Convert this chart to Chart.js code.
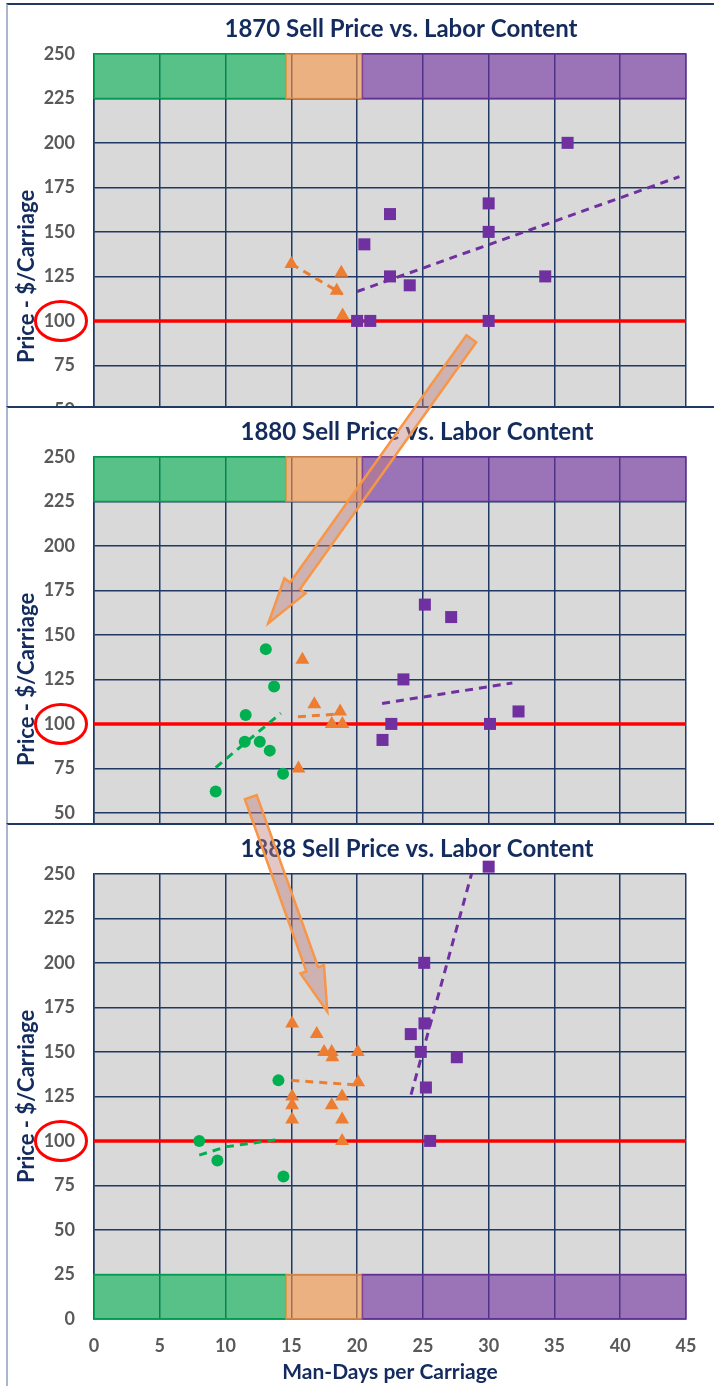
<!DOCTYPE html>
<html>
<head>
<meta charset="utf-8">
<script src="https://cdn.jsdelivr.net/npm/chart.js@4.4.1/dist/chart.umd.min.js"></script>
<style>
	html, body { margin: 0; padding: 0; background: #fff; }
	body { width: 714px; height: 1386px; overflow: hidden; position: relative; }
	.panel { position: absolute; left: 6px; background: #fff; border-top: 2px solid #1F3864; border-left: 2px solid #A9B6CF; }
	.panel canvas { display: block; }
	#p1870 { top: 3px; }
	#p1880 { top: 406px; }
	#p1888 { top: 823px; }
	#arrows { position: absolute; left: 0; top: 0; pointer-events: none; }
</style>
</head>
<body>
<div class="panel" id="p1870"><canvas id="chart-1870" width="786" height="561"></canvas></div>
<div class="panel" id="p1880"><canvas id="chart-1880" width="818" height="561"></canvas></div>
<div class="panel" id="p1888"><canvas id="chart-1888" width="818" height="561"></canvas></div>
<svg id="arrows" width="714" height="1386"></svg>

<script>
//------------------------------------------------------------
// Data
//------------------------------------------------------------
const X_MIN = 0, X_MAX = 45, X_STEP = 5;
const Y_MIN = 0, Y_MAX = 250, Y_STEP = 25;
const PARITY_PRICE = 100;
const BAND_EDGES = [0, 14.6, 20.4, 45];

// 1870
const orange1870X = [15.0, 18.8, 18.45, 18.9];
const orange1870Y = [132, 127, 117, 103];
const purple1870X = [36.0, 30.0, 30.0, 22.5, 20.55, 22.5, 24.0, 34.3, 20.0, 21.0, 30.0];
const purple1870Y = [200, 166, 150, 160, 143, 125, 120, 125, 100, 100, 100];
const orangeTrend1870X = [15.0, 18.9];
const orangeTrend1870Y = [132, 115];
const purpleTrend1870X = [20.0, 44.5];
const purpleTrend1870Y = [116.5, 181];

// 1880
const green1880X = [13.06, 13.69, 11.53, 11.46, 12.6, 13.36, 14.37, 9.25];
const green1880Y = [142, 121, 105, 90, 90, 85, 72, 62];
const orange1880X = [15.84, 16.75, 18.71, 18.07, 18.88, 15.54];
const orange1880Y = [136, 111, 107, 100, 100, 75];
const purple1880X = [25.15, 27.15, 23.52, 22.6, 30.1, 32.27, 21.93];
const purple1880Y = [167, 160, 125, 100, 100, 107, 91];
const greenTrend1880X = [9.25, 14.2];
const greenTrend1880Y = [75.5, 106];
const orangeTrend1880X = [15.5, 18.5];
const orangeTrend1880Y = [104, 105.5];
const purpleTrend1880X = [21.9, 31.8];
const purpleTrend1880Y = [111.5, 123];

// 1888
const green1888X = [14.02, 8.0, 9.38, 14.4];
const green1888Y = [134, 100, 89, 80];
const orange1888X = [15.06, 16.93, 17.49, 18.07, 18.12, 20.05, 20.08, 15.06, 15.06, 15.06, 18.86, 18.07, 18.86, 18.86];
const orange1888Y = [166, 160, 150, 150, 147, 150, 133, 125, 120, 112, 125, 120, 112, 100];
const purple1888X = [25.12, 24.08, 24.84, 27.58, 25.23, 25.55, 25.1, 30.0];
const purple1888Y = [166, 160, 150, 147, 130, 100, 200, 254];
const greenTrend1888X = [8.0, 10.1, 14.2];
const greenTrend1888Y = [92, 96.8, 101];
const orangeTrend1888X = [15.0, 20.2];
const orangeTrend1888Y = [134, 131.3];
const purpleTrend1888X = [24.1, 28.7];
const purpleTrend1888Y = [126, 250];

//------------------------------------------------------------
// Styles
//------------------------------------------------------------
const NAVY = "#1F3864";
const TITLE_NAVY = "#142B5E";
const TICK_GRAY = "#595959";
const FONT = "Lato, 'Open Sans', sans-serif";
const COLORS = { green: "#00B050", orange: "#ED7D31", purple: "#7030A0" };
const BAND_RGB = ["0, 176, 80", "247, 150, 70", "112, 48, 160"];

const pts = (xs, ys) => xs.map((x, i) => ({ x: x, y: ys[i] }));

const markerSet = (xs, ys, color, style, radius) => ({
	type: "scatter",
	data: pts(xs, ys),
	backgroundColor: color,
	borderWidth: 0,
	pointStyle: style,
	pointRadius: radius,
	pointHoverRadius: radius,
	clip: false,
	order: 1,
});

const trendSet = (xs, ys, color) => ({
	type: "line",
	data: pts(xs, ys),
	borderColor: color,
	borderWidth: 3,
	borderDash: [8, 6],
	pointRadius: 0,
	fill: false,
	order: 2,
});

const parityLine = () => ({
	type: "line",
	data: pts([X_MIN, X_MAX], [PARITY_PRICE, PARITY_PRICE]),
	borderColor: "#FF0000",
	borderWidth: 3.5,
	pointRadius: 0,
	fill: false,
	order: 3,
});

// grey plot area
const plotBackground = {
	id: "plotBackground",
	beforeDraw(chart) {
		const { ctx, chartArea: a } = chart;
		ctx.save();
		ctx.fillStyle = "#D9D9D9";
		ctx.fillRect(a.left, a.top, a.right - a.left, a.bottom - a.top);
		ctx.restore();
	},
};

// coloured labour bands (green / orange / purple)
const bands = {
	id: "bands",
	beforeDatasetsDraw(chart, args, opts) {
		const { ctx, scales } = chart;
		const yTop = scales.y.getPixelForValue(opts.range[1]);
		const yBot = scales.y.getPixelForValue(opts.range[0]);
		ctx.save();
		for (let i = 0; i < BAND_EDGES.length - 1; i++) {
			const x0 = scales.x.getPixelForValue(BAND_EDGES[i]);
			const x1 = scales.x.getPixelForValue(BAND_EDGES[i + 1]);
			ctx.fillStyle = "rgba(" + BAND_RGB[i] + ", 0.6)";
			ctx.fillRect(x0, yTop, x1 - x0, yBot - yTop);
			ctx.strokeStyle = "rgba(" + BAND_RGB[i] + ", 0.75)";
			ctx.lineWidth = 1.5;
			ctx.strokeRect(x0, yTop, x1 - x0, yBot - yTop);
		}
		ctx.restore();
	},
};

// red ring round the "100" tick
const parityRing = {
	id: "parityRing",
	afterDraw(chart) {
		const { ctx, chartArea, scales } = chart;
		const y = scales.y.getPixelForValue(PARITY_PRICE);
		ctx.save();
		ctx.strokeStyle = "#FF0000";
		ctx.lineWidth = 3;
		ctx.beginPath();
		ctx.ellipse(chartArea.left - 33, y, 25.5, 19.5, 0, 0, Math.PI * 2);
		ctx.stroke();
		ctx.restore();
	},
};

const makeChart = (id, title, datasets, bandRange) => {
	const canvas = document.getElementById(id);
	const rightPad = canvas.width - 678;
	return new Chart(canvas, {
		type: "scatter",
		data: { datasets: datasets },
		plugins: [plotBackground, bands, parityRing],
		options: {
			responsive: false,
			animation: false,
			layout: { padding: 0 },
			plugins: {
				legend: { display: false },
				tooltip: { enabled: false },
				bands: { range: bandRange },
				title: {
					display: true,
					text: title,
					color: TITLE_NAVY,
					font: { family: FONT, size: 24, weight: "bold" },
					padding: { top: 10, bottom: 10 },
				},
			},
			scales: {
				x: {
					type: "linear",
					min: X_MIN,
					max: X_MAX,
					grid: { color: NAVY, lineWidth: 1.5, drawTicks: false },
					border: { display: true, color: NAVY, width: 1.5 },
					ticks: {
						stepSize: X_STEP,
						color: TICK_GRAY,
						padding: 16,
						font: { family: FONT, size: 18, weight: "bold" },
					},
					title: {
						display: true,
						text: "Man-Days per Carriage",
						color: TITLE_NAVY,
						font: { family: FONT, size: 21, weight: "bold" },
						padding: { top: 0, bottom: 1 },
					},
					afterFit: (scale) => {
						scale.height = 67;
					},
				},
				y: {
					type: "linear",
					min: Y_MIN,
					max: Y_MAX,
					grid: { color: NAVY, lineWidth: 1.5, drawTicks: false },
					border: { display: true, color: NAVY, width: 1.5 },
					ticks: {
						stepSize: Y_STEP,
						color: TICK_GRAY,
						padding: 19,
						font: { family: FONT, size: 18, weight: "bold" },
					},
					title: {
						display: true,
						text: "Price - $/Carriage",
						color: TITLE_NAVY,
						font: { family: FONT, size: 22, weight: "bold" },
						padding: { top: 6, bottom: 0 },
					},
					afterFit: (scale) => {
						scale.width = 86;
					},
				},
				yRight: {
					type: "linear",
					position: "right",
					grid: { display: false },
					border: { display: false },
					ticks: { display: false },
					afterFit: (scale) => {
						scale.width = rightPad;
					},
				},
			},
		},
	});
};

//------------------------------------------------------------
// Charts
//------------------------------------------------------------
makeChart("chart-1870", "1870 Sell Price vs. Labor Content", [
	markerSet(orange1870X, orange1870Y, COLORS.orange, "triangle", 8),
	markerSet(purple1870X, purple1870Y, COLORS.purple, "rect", 8.5),
	trendSet(orangeTrend1870X, orangeTrend1870Y, COLORS.orange),
	trendSet(purpleTrend1870X, purpleTrend1870Y, COLORS.purple),
	parityLine(),
], [225, 250]);

makeChart("chart-1880", "1880 Sell Price vs. Labor Content", [
	markerSet(green1880X, green1880Y, COLORS.green, "circle", 6),
	markerSet(orange1880X, orange1880Y, COLORS.orange, "triangle", 8),
	markerSet(purple1880X, purple1880Y, COLORS.purple, "rect", 8.5),
	trendSet(greenTrend1880X, greenTrend1880Y, COLORS.green),
	trendSet(orangeTrend1880X, orangeTrend1880Y, COLORS.orange),
	trendSet(purpleTrend1880X, purpleTrend1880Y, COLORS.purple),
	parityLine(),
], [225, 250]);

makeChart("chart-1888", "1888 Sell Price vs. Labor Content", [
	markerSet(green1888X, green1888Y, COLORS.green, "circle", 6),
	markerSet(orange1888X, orange1888Y, COLORS.orange, "triangle", 8),
	markerSet(purple1888X, purple1888Y, COLORS.purple, "rect", 8.5),
	trendSet(greenTrend1888X, greenTrend1888Y, COLORS.green),
	trendSet(orangeTrend1888X, orangeTrend1888Y, COLORS.orange),
	trendSet(purpleTrend1888X, purpleTrend1888Y, COLORS.purple),
	parityLine(),
], [0, 25]);

//------------------------------------------------------------
// Block arrows linking the panels (page annotations)
//------------------------------------------------------------
const ARROWS = [
	{ tail: [471.3, 338.8], tip: [268.3, 623.3], shaft: 12, head: 26, headLen: 46 },
	{ tail: [250.8, 797.2], tip: [327.3, 1011.7], shaft: 12.5, head: 25, headLen: 45 },
];

const arrowPoints = (a) => {
	const dx = a.tip[0] - a.tail[0], dy = a.tip[1] - a.tail[1];
	const len = Math.hypot(dx, dy);
	const ux = dx / len, uy = dy / len, nx = -uy, ny = ux;
	const bx = a.tip[0] - ux * a.headLen, by = a.tip[1] - uy * a.headLen;
	const off = (x, y, k) => [x + nx * k, y + ny * k];
	return [
		off(a.tail[0], a.tail[1], a.shaft / 2),
		off(bx, by, a.shaft / 2),
		off(bx, by, a.head / 2),
		a.tip,
		off(bx, by, -a.head / 2),
		off(bx, by, -a.shaft / 2),
		off(a.tail[0], a.tail[1], -a.shaft / 2),
	];
};

const svg = document.getElementById("arrows");
ARROWS.forEach((a) => {
	const poly = document.createElementNS("http://www.w3.org/2000/svg", "polygon");
	poly.setAttribute("points", arrowPoints(a).map((p) => p[0].toFixed(1) + "," + p[1].toFixed(1)).join(" "));
	poly.setAttribute("fill", "rgba(192, 128, 128, 0.45)");
	poly.setAttribute("stroke", "#F79646");
	poly.setAttribute("stroke-width", "2.5");
	svg.appendChild(poly);
});
</script>
</body>
</html>
